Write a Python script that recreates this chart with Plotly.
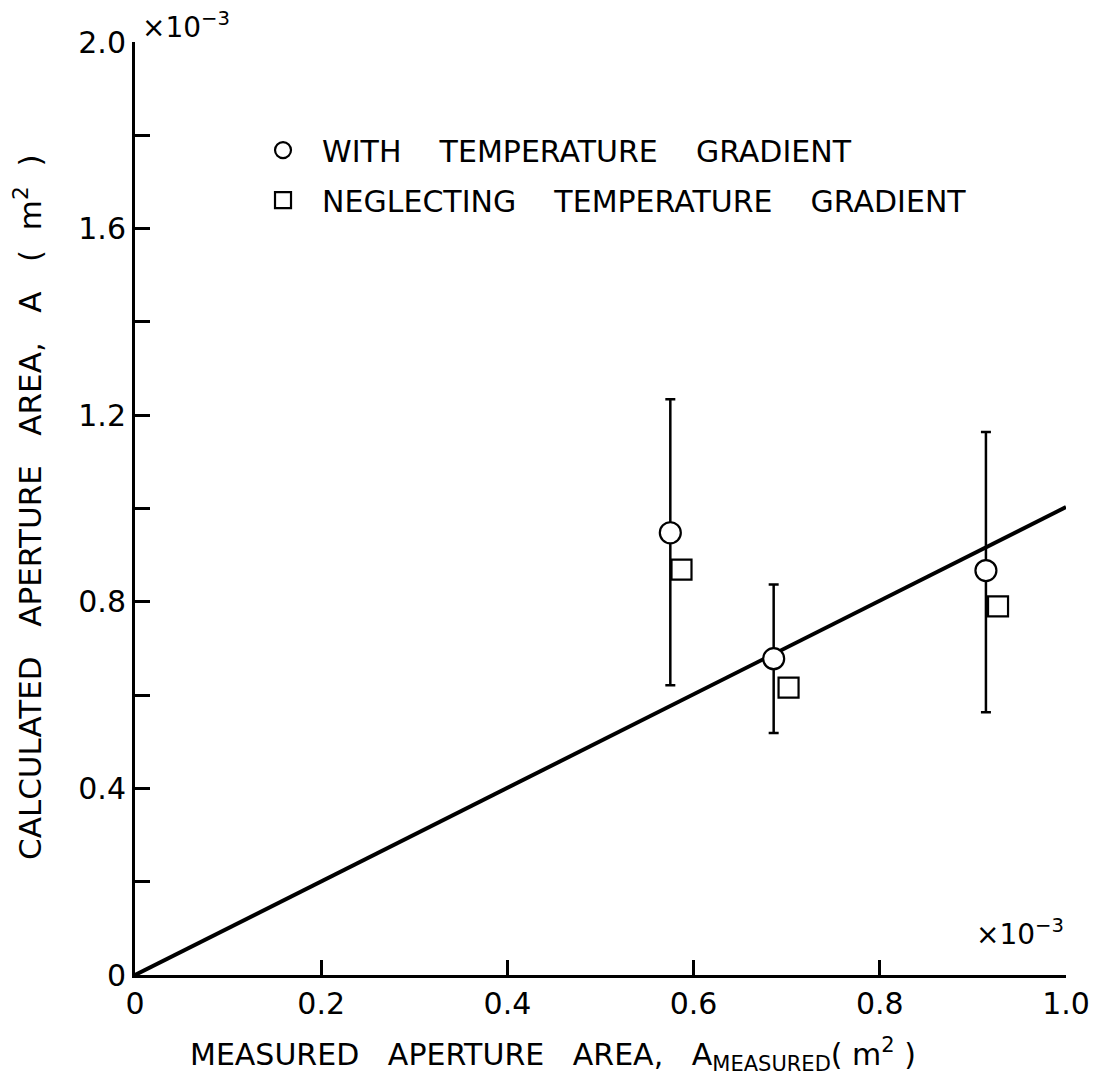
import plotly.graph_objects as go

# data (units of 1e-3 m^2)
x_with = [0.575, 0.686, 0.914]
y_with = [0.948, 0.678, 0.867]
err_hi = [1.234, 0.837, 1.164]
err_lo = [0.621, 0.519, 0.563]
x_neg = [0.587, 0.702, 0.927]
y_neg = [0.869, 0.616, 0.790]
fit_x = [0.0, 1.0]
fit_y = [0.0, 1.003]

x_ticks = [0, 0.2, 0.4, 0.6, 0.8, 1.0]
x_ticktext = ["0", "0.2", "0.4", "0.6", "0.8", "1.0"]
y_ticks = [0, 0.2, 0.4, 0.6, 0.8, 1.0, 1.2, 1.4, 1.6, 1.8, 2.0]
y_ticktext = ["0", "", "0.4", "", "0.8", "", "1.2", "", "1.6", "", "2.0"]

FONT = "DejaVu Sans"
S = "\u00a0"
SP3 = S * 3
SP4 = S * 4

fig = go.Figure()
fig.add_trace(go.Scatter(x=fit_x, y=fit_y, mode="lines",
                         line=dict(color="black", width=4), showlegend=False,
                         cliponaxis=False))
fig.add_trace(go.Scatter(
    x=x_with, y=y_with, mode="markers", legendgroup="g1",
    name=S * 2 + SP4.join(["WITH", "TEMPERATURE", "GRADIENT"]),
    marker=dict(symbol="circle", size=21, color="white",
                line=dict(color="black", width=2.2)),
    error_y=dict(type="data", symmetric=False,
                 array=[h - v for h, v in zip(err_hi, y_with)],
                 arrayminus=[v - l for l, v in zip(err_lo, y_with)],
                 color="black", thickness=2.5, width=5),
    cliponaxis=False))
fig.add_trace(go.Scatter(
    x=x_neg, y=y_neg, mode="markers", legendgroup="g2",
    name=S * 2 + SP4.join(["NEGLECTING", "TEMPERATURE", "GRADIENT"]),
    marker=dict(symbol="square", size=20, color="white",
                line=dict(color="black", width=2.2)),
    cliponaxis=False))

axis_common = dict(showline=True, linewidth=3, linecolor="black", ticks="inside",
                   ticklen=15, tickwidth=3, tickcolor="black", showgrid=False,
                   zeroline=False, mirror=False, automargin=False,
                   tickfont=dict(family=FONT, size=30, color="black"))
fig.update_xaxes(range=[0, 1.0], tickmode="array", tickvals=x_ticks,
                 ticktext=x_ticktext, **axis_common)
fig.update_yaxes(range=[0, 2.0], tickmode="array", tickvals=y_ticks,
                 ticktext=y_ticktext, **axis_common)

fig.update_layout(
    width=1095, height=1084,
    margin=dict(l=135, r=29, t=42, b=109),
    paper_bgcolor="white", plot_bgcolor="white",
    font=dict(family=FONT, color="black"),
    showlegend=True,
    legend=dict(x=0.1375, y=0.912, xanchor="left", yanchor="top",
                bgcolor="rgba(0,0,0,0)", font=dict(family=FONT, size=30),
                itemsizing="trace", tracegroupgap=8, traceorder="grouped"),
    annotations=[
        dict(text=SP3.join(["CALCULATED", "APERTURE", "AREA,", "A",
                            "(" + S * 2 + "m<sup>2</sup>" + S * 2 + ")"]),
             xref="paper", yref="paper", x=-0.115, y=0.5016, textangle=-90,
             showarrow=False, font=dict(family=FONT, size=31), xanchor="center",
             yanchor="middle"),
        dict(text=SP3.join(["MEASURED", "APERTURE", "AREA,",
                            "A<sub>MEASURED</sub>(" + S + "m<sup>2</sup>" + S + ")"]),
             xref="paper", yref="paper", x=0.449, y=-0.060, showarrow=False,
             font=dict(family=FONT, size=30), xanchor="center", yanchor="top"),
        dict(text="×10<sup>−3</sup>", xref="paper", yref="paper", x=0.005, y=1.0,
             xanchor="left", yanchor="bottom", showarrow=False, yshift=-4,
             font=dict(family=FONT, size=28)),
        dict(text="×10<sup>−3</sup>", xref="paper", yref="paper", x=1.0, y=0.03,
             xanchor="right", yanchor="bottom", showarrow=False, yshift=-6,
             font=dict(family=FONT, size=28)),
    ],
)
fig.write_html("out.html", config={"displayModeBar": False},
               post_script="document.body.style.margin='0';")
